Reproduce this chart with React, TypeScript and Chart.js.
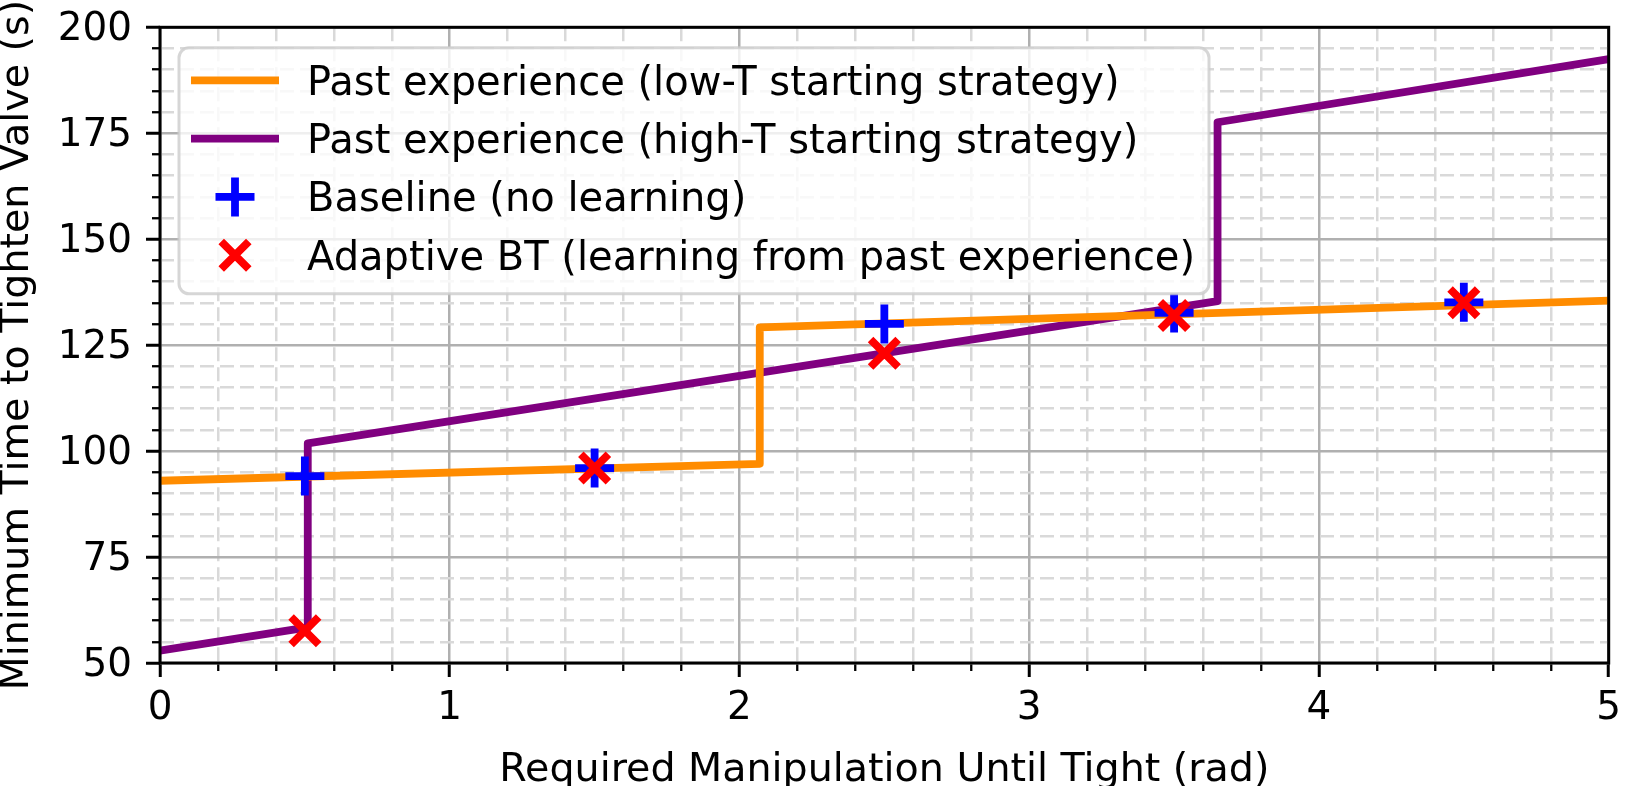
import React, { useEffect, useRef } from 'react';
import { Chart, registerables } from 'chart.js';

Chart.register(...registerables);

// ---- data ----
const lowTX = [0, 2.07, 2.07, 5];
const lowTY = [93, 97, 129.2, 135.5];
const highTX = [0, 0.51, 0.51, 3.65, 3.65, 5];
const highTY = [52.9, 58.4, 101.8, 135.4, 177.6, 192.5];
const trialX = [0.5, 1.5, 2.5, 3.5, 4.5];
const baselineY = [94.1, 96, 130, 132.6, 135.1];
const adaptiveY = [57.6, 96, 123.1, 132.0, 135.0];
const xMajorTicks = [0, 1, 2, 3, 4, 5];
const yMajorTicks = [50, 75, 100, 125, 150, 175, 200];

const labelLowT = 'Past experience (low-T starting strategy)';
const labelHighT = 'Past experience (high-T starting strategy)';
const labelBaseline = 'Baseline (no learning)';
const labelAdaptive = 'Adaptive BT (learning from past experience)';
const xTitle = 'Required Manipulation Until Tight (rad)';
const yTitle = 'Minimum Time to Tighten Valve (s)';

const FONT = 'DejaVu Sans';
const FS = 38.9;
const FS_TITLE = 39.6;
const FS_LEGEND = 40;
const ORANGE = '#ff8c00';
const PURPLE = '#800080';
const BLUE = '#0000ff';
const RED = '#ff0000';
const LW = 7.8;
const MR = 19.5;

const isWhole = (v: number, step: number) => {
  const q = v / step;
  return Math.abs(q - Math.round(q)) < 1e-6;
};

function drawMarker(ctx: CanvasRenderingContext2D, x: number, y: number, r: number, color: string, rot: boolean) {
  ctx.save();
  ctx.strokeStyle = color;
  ctx.lineWidth = LW;
  ctx.lineCap = 'butt';
  ctx.beginPath();
  if (rot) {
    const o = r * Math.cos(Math.PI / 4);
    ctx.moveTo(x - o, y - o);
    ctx.lineTo(x + o, y + o);
    ctx.moveTo(x - o, y + o);
    ctx.lineTo(x + o, y - o);
  } else {
    ctx.moveTo(x, y - r);
    ctx.lineTo(x, y + r);
    ctx.moveTo(x - r, y);
    ctx.lineTo(x + r, y);
  }
  ctx.stroke();
  ctx.restore();
}

function roundRect(ctx: CanvasRenderingContext2D, x: number, y: number, w: number, h: number, r: number) {
  ctx.beginPath();
  ctx.moveTo(x + r, y);
  ctx.lineTo(x + w - r, y);
  ctx.arcTo(x + w, y, x + w, y + r, r);
  ctx.lineTo(x + w, y + h - r);
  ctx.arcTo(x + w, y + h, x + w - r, y + h, r);
  ctx.lineTo(x + r, y + h);
  ctx.arcTo(x, y + h, x, y + h - r, r);
  ctx.lineTo(x, y + r);
  ctx.arcTo(x, y, x + r, y, r);
  ctx.closePath();
}

const framePlugin = {
  id: 'frame',
  afterDatasetsDraw(chart: any) {
    const { ctx, chartArea: a } = chart;
    ctx.save();
    ctx.strokeStyle = '#000';
    ctx.lineWidth = 3;
    ctx.strokeRect(a.left, a.top, a.right - a.left, a.bottom - a.top);
    ctx.restore();
  },
};

const legendItems = [
  { label: labelLowT, kind: 'line', color: ORANGE },
  { label: labelHighT, kind: 'line', color: PURPLE },
  { label: labelBaseline, kind: 'plus', color: BLUE },
  { label: labelAdaptive, kind: 'x', color: RED },
];

const legendPlugin = {
  id: 'mplLegend',
  afterDraw(chart: any) {
    const { ctx, chartArea: a } = chart;
    const bx = a.left + 19;
    const by = a.top + 20.5;
    const bw = 1030;
    const bh = 246;
    ctx.save();
    roundRect(ctx, bx, by, bw, bh, 10);
    ctx.fillStyle = 'rgba(255,255,255,0.8)';
    ctx.fill();
    ctx.strokeStyle = 'rgba(204,204,204,0.8)';
    ctx.lineWidth = 3;
    ctx.stroke();
    ctx.font = `${FS_LEGEND}px "${FONT}"`;
    ctx.fillStyle = '#000';
    ctx.textBaseline = 'alphabetic';
    ctx.textAlign = 'left';
    legendItems.forEach((it, i) => {
      const cy = by + 32.5 + i * 58.3;
      if (it.kind === 'line') {
        ctx.save();
        ctx.strokeStyle = it.color;
        ctx.lineWidth = LW;
        ctx.lineCap = 'butt';
        ctx.beginPath();
        ctx.moveTo(bx + 12, cy);
        ctx.lineTo(bx + 100, cy);
        ctx.stroke();
        ctx.restore();
      } else {
        drawMarker(ctx, bx + 56, cy, MR, it.color, it.kind === 'x');
      }
      ctx.fillText(it.label, bx + 128, cy + 14.5);
    });
    ctx.restore();
  },
};

export default function App() {
  const ref = useRef<HTMLCanvasElement>(null);
  useEffect(() => {
    const canvas = ref.current!;
    const tickFont = { family: FONT, size: FS };
    const chart = new Chart(canvas, {
      type: 'line',
      data: {
        datasets: [
          {
            label: labelAdaptive,
            data: trialX.map((x, i) => ({ x, y: adaptiveY[i] })),
            showLine: false,
            pointStyle: 'crossRot',
            pointRadius: MR,
            pointHoverRadius: MR,
            pointBorderWidth: LW,
            pointHoverBorderWidth: LW,
            borderColor: RED,
            backgroundColor: RED,
            order: 0,
            xAxisID: 'x',
            yAxisID: 'y',
          },
          {
            label: labelBaseline,
            data: trialX.map((x, i) => ({ x, y: baselineY[i] })),
            showLine: false,
            pointStyle: 'cross',
            pointRadius: MR,
            pointHoverRadius: MR,
            pointBorderWidth: LW,
            pointHoverBorderWidth: LW,
            borderColor: BLUE,
            backgroundColor: BLUE,
            order: 1,
            xAxisID: 'x',
            yAxisID: 'y',
          },
          {
            label: labelLowT,
            data: lowTX.map((x, i) => ({ x, y: lowTY[i] })),
            borderColor: ORANGE,
            backgroundColor: ORANGE,
            borderWidth: LW,
            pointRadius: 0,
            pointHoverRadius: 0,
            tension: 0,
            fill: false,
            borderJoinStyle: 'round',
            borderCapStyle: 'butt',
            order: 2,
            xAxisID: 'x',
            yAxisID: 'y',
          },
          {
            label: labelHighT,
            data: highTX.map((x, i) => ({ x, y: highTY[i] })),
            borderColor: PURPLE,
            backgroundColor: PURPLE,
            borderWidth: LW,
            pointRadius: 0,
            pointHoverRadius: 0,
            tension: 0,
            fill: false,
            borderJoinStyle: 'round',
            borderCapStyle: 'butt',
            order: 3,
            xAxisID: 'x',
            yAxisID: 'y',
          },
        ],
      },
      options: {
        responsive: false,
        animation: false,
        devicePixelRatio: 1,
        events: [],
        clip: false as any,
        layout: { padding: { top: 27, right: 11, left: 0, bottom: 0 } },
        plugins: { legend: { display: false }, tooltip: { enabled: false } },
        scales: {
          x: {
            type: 'linear',
            position: 'bottom',
            min: 0,
            max: 5,
            weight: 1,
            afterBuildTicks: (s: any) => {
              s.ticks = xMajorTicks.map((v) => ({ value: v }));
            },
            afterFit: (s: any) => {
              s.height = 123;
              s.paddingLeft = 0;
              s.paddingRight = 0;
            },
            ticks: {
              font: tickFont,
              color: '#000',
              padding: 9,
              maxRotation: 0,
              minRotation: 0,
              autoSkip: false,
              callback: (v: any) => String(v),
            },
            grid: { color: '#b0b0b0', lineWidth: 2.5, tickLength: 14, tickColor: '#000', tickWidth: 3 },
            border: { display: false },
            title: {
              display: true,
              text: xTitle,
              color: '#000',
              font: { family: FONT, size: FS_TITLE, lineHeight: 0.76 },
              padding: 0,
            },
          },
          xMinor: {
            type: 'linear',
            position: 'bottom',
            min: 0,
            max: 5,
            weight: 0,
            afterFit: (s: any) => {
              s.height = 0;
              s.paddingLeft = 0;
              s.paddingRight = 0;
            },
            ticks: { display: false, stepSize: 0.2, font: { size: 4 } },
            grid: {
              color: (c: any) => (isWhole(c.tick.value, 1) ? 'rgba(0,0,0,0)' : '#d9d9d9'),
              lineWidth: 2.5,
              tickLength: 8,
              tickColor: (c: any) => (isWhole(c.tick.value, 1) ? 'rgba(0,0,0,0)' : '#000'),
              tickWidth: 2.3,
            },
            border: { display: false, dash: [14, 6] },
          },
          y: {
            type: 'linear',
            position: 'left',
            min: 50,
            max: 200,
            weight: 1,
            afterBuildTicks: (s: any) => {
              s.ticks = yMajorTicks.map((v) => ({ value: v }));
            },
            afterFit: (s: any) => {
              s.width = 160;
              s.paddingTop = 0;
              s.paddingBottom = 0;
            },
            ticks: {
              font: tickFont,
              color: '#000',
              padding: 14,
              labelOffset: 3,
              autoSkip: false,
              callback: (v: any) => String(v),
            },
            grid: { color: '#b0b0b0', lineWidth: 2.5, tickLength: 14, tickColor: '#000', tickWidth: 3 },
            border: { display: false },
            title: {
              display: true,
              text: yTitle,
              color: '#000',
              font: { family: FONT, size: FS_TITLE, lineHeight: 0.91 },
              padding: 0,
            },
          },
          yMinor: {
            type: 'linear',
            position: 'left',
            min: 50,
            max: 200,
            weight: 0,
            afterFit: (s: any) => {
              s.width = 0;
              s.paddingTop = 0;
              s.paddingBottom = 0;
            },
            ticks: { display: false, stepSize: 5, font: { size: 4 } },
            grid: {
              color: (c: any) => (isWhole(c.tick.value, 25) ? 'rgba(0,0,0,0)' : '#d9d9d9'),
              lineWidth: 2.5,
              tickLength: 8,
              tickColor: (c: any) => (isWhole(c.tick.value, 25) ? 'rgba(0,0,0,0)' : '#000'),
              tickWidth: 2.3,
            },
            border: { display: false, dash: [14, 6] },
          },
        },
      } as any,
      plugins: [framePlugin, legendPlugin],
    });
    return () => chart.destroy();
  }, []);
  return (
    <div style={{ position: 'absolute', left: 0, top: 0, width: 1636, height: 786, background: '#fff' }}>
      <canvas ref={ref} width={1636} height={786} style={{ display: 'block', width: 1636, height: 786 }} />
    </div>
  );
}
